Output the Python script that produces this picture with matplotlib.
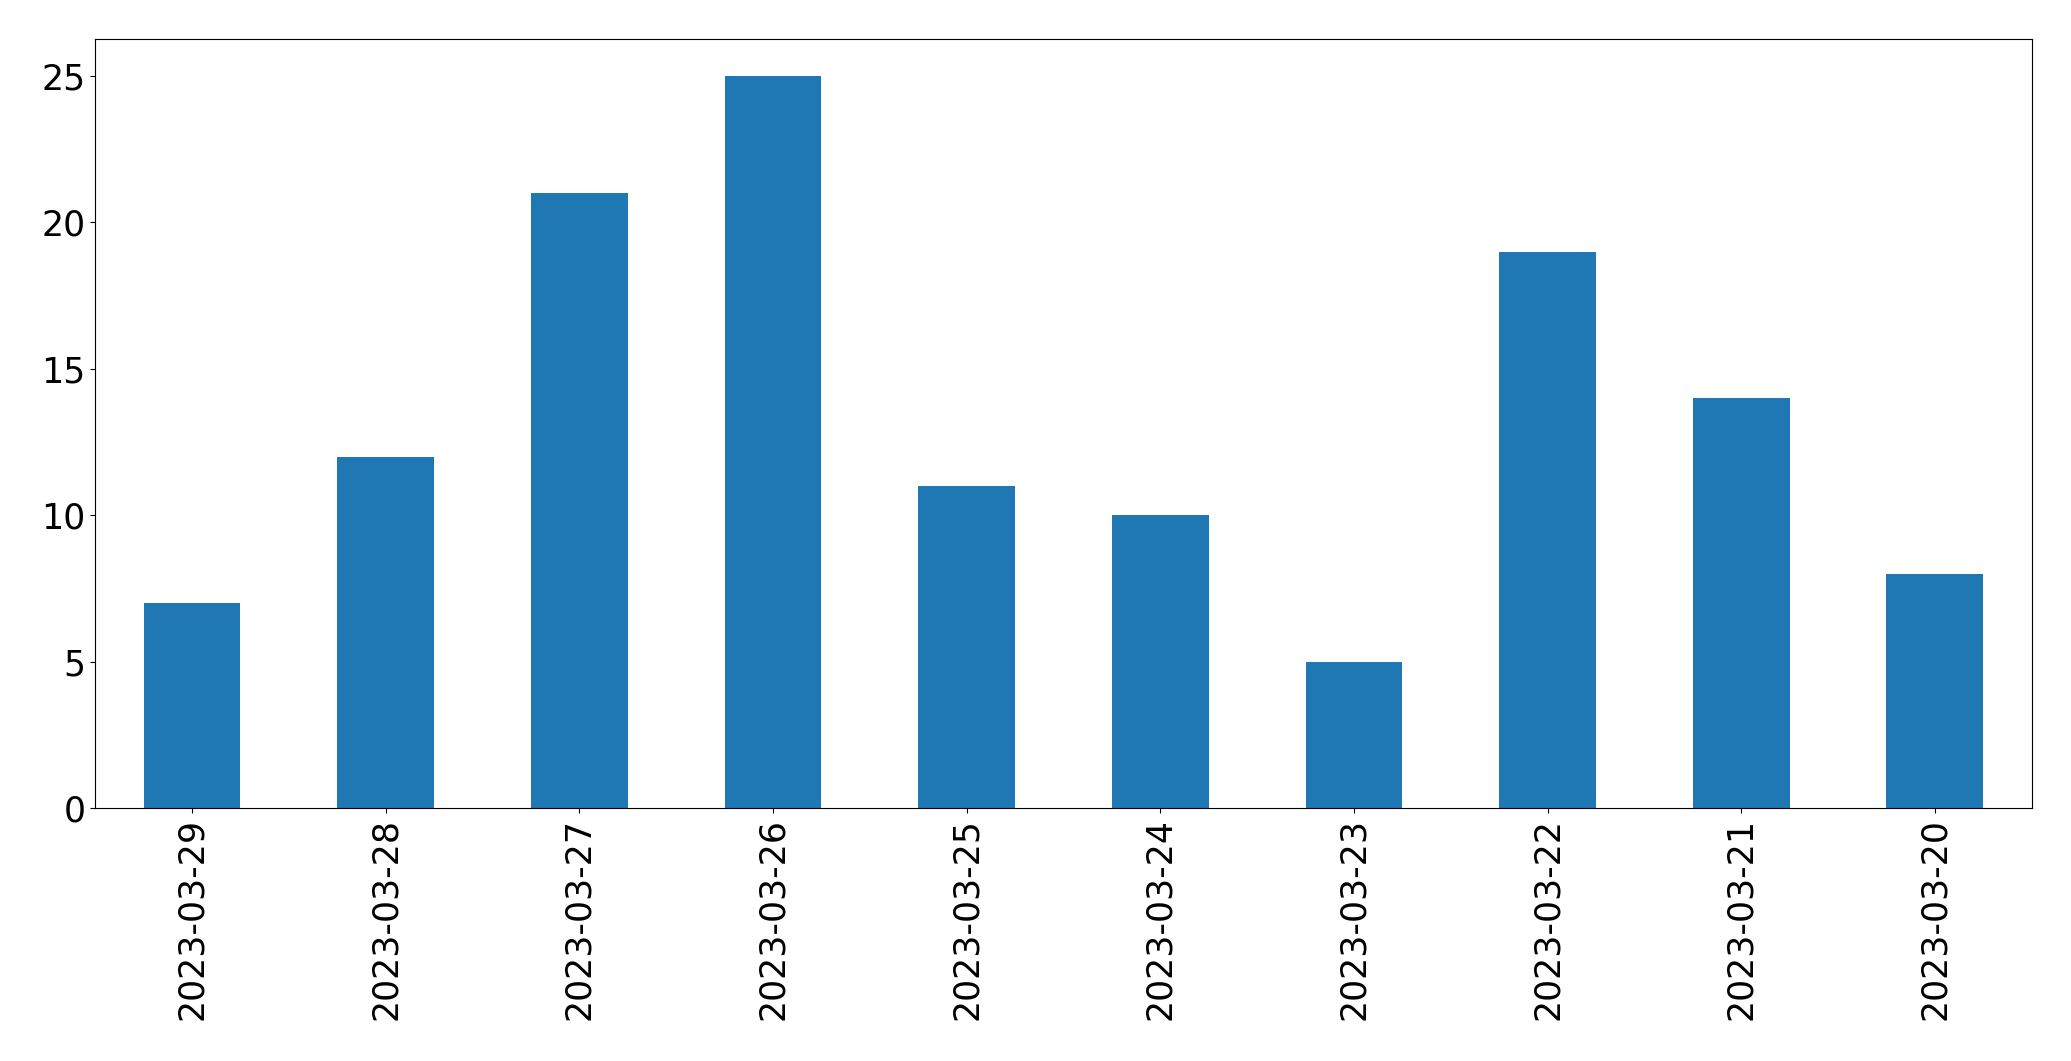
import matplotlib
matplotlib.use('Agg')
import matplotlib.pyplot as plt

# Data
dates = ['2023-03-29', '2023-03-28', '2023-03-27', '2023-03-26', '2023-03-25',
         '2023-03-24', '2023-03-23', '2023-03-22', '2023-03-21', '2023-03-20']
counts = [7, 12, 21, 25, 11, 10, 5, 19, 14, 8]

fig = plt.figure(figsize=(20.71, 10.61), dpi=100)
ax = fig.add_axes([0.046, 0.238, 0.935, 0.725])

x = range(len(dates))
ax.bar(x, counts, width=0.5, color='#1f77b4')
ax.set_xlim(-0.5, len(dates) - 0.5)
ax.set_xticks(list(x))
ax.set_xticklabels(dates, rotation=90)
ax.tick_params(labelsize=25)

fig.savefig('out.png', dpi=100)
